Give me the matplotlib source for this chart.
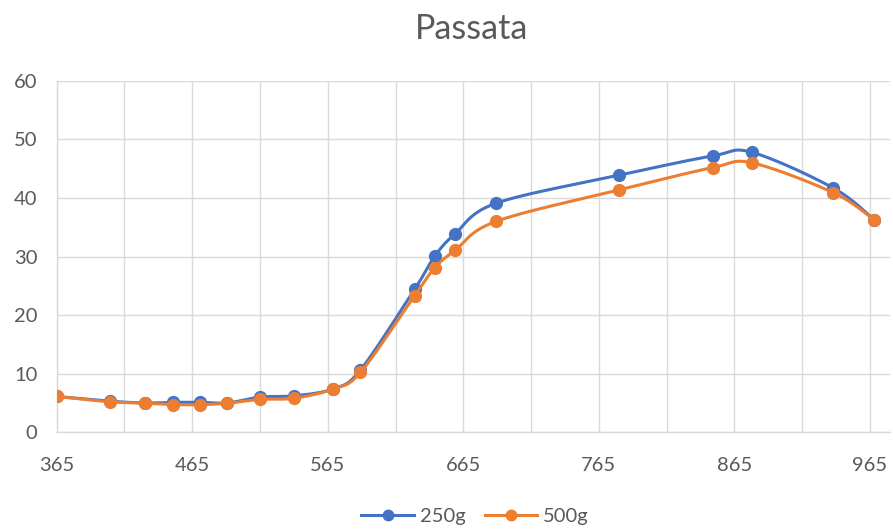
import numpy as np
import matplotlib
matplotlib.use("Agg")
import matplotlib.pyplot as plt
from matplotlib.lines import Line2D

# Wavelength (nm) and readings for the two passata samples
wavelength = [365, 404, 430, 451, 471, 491, 515, 540, 569, 589,
              629, 644, 659, 689, 780, 849, 878, 938, 968]
series_250g = [6.1, 5.3, 5.0, 5.1, 5.1, 5.0, 6.0, 6.2, 7.4, 10.6,
               24.4, 30.1, 33.9, 39.1, 43.9, 47.2, 47.8, 41.7, 36.3]
series_500g = [6.1, 5.2, 4.95, 4.7, 4.7, 4.95, 5.6, 5.8, 7.4, 10.2,
               23.3, 28.1, 31.1, 36.0, 41.4, 45.2, 46.0, 40.9, 36.3]
labels = ["250g", "500g"]
colors = ["#4472C4", "#ED7D31"]

x_ticks = [365, 465, 565, 665, 765, 865, 965]


def smooth(xs, ys, n=30):
    """Cubic Bezier smoothing through every point (Catmull-Rom style)."""
    p = np.column_stack([xs, ys]).astype(float)
    p_ext = np.vstack([p[0], p, p[-1]])
    out = []
    t = np.linspace(0, 1, n)[:, None]
    for i in range(len(p) - 1):
        p0, p1, p2, p3 = p_ext[i], p_ext[i + 1], p_ext[i + 2], p_ext[i + 3]
        c1 = p1 + (p2 - p0) / 6.0
        c2 = p2 - (p3 - p1) / 6.0
        seg = ((1 - t) ** 3) * p1 + 3 * ((1 - t) ** 2) * t * c1 \
            + 3 * (1 - t) * t ** 2 * c2 + t ** 3 * p2
        out.append(seg if i == 0 else seg[1:])
    curve = np.vstack(out)
    return curve[:, 0], curve[:, 1]


plt.rcParams["font.family"] = ["Lato", "DejaVu Sans"]
text_color = "#595959"
grid_color = "#D9D9D9"

fig = plt.figure(figsize=(8.93, 5.29), dpi=100)
ax = fig.add_axes([0.0635, 0.183, 0.9335, 0.664])

for ys, lab, col, z in zip([series_250g, series_500g], labels, colors, [3, 4]):
    sx, sy = smooth(wavelength, ys)
    ax.plot(sx, sy, color=col, lw=2.2, zorder=z, solid_capstyle="round")
    ax.plot(wavelength, ys, ls="none", marker="o", ms=8.5, color=col,
            markeredgecolor=col, zorder=z)

ax.set_xlim(365, 980)
ax.set_ylim(0, 60)
ax.set_xticks(x_ticks)
ax.set_xticks(np.arange(415, 980, 100), minor=True)
ax.set_yticks(np.arange(0, 61, 10))
ax.grid(True, which="both", color=grid_color, lw=1.0, zorder=0)
ax.tick_params(which="both", length=0, colors=text_color, labelsize=14.5)
ax.tick_params(axis="x", pad=18)
ax.tick_params(axis="y", pad=14)
for s in ["top", "right"]:
    ax.spines[s].set_visible(False)
for s in ["left", "bottom"]:
    ax.spines[s].set_color(grid_color)
    ax.spines[s].set_linewidth(1.0)
ax.set_axisbelow(True)

fig.text(0.528, 0.946, "Passata", ha="center", va="center",
         fontsize=24.5, color=text_color)

handles = [Line2D([0], [0], color=c, lw=2.2, marker="o", ms=7.5)
           for c in colors]
fig.legend(handles, labels, loc="center", bbox_to_anchor=(0.532, 0.024),
           ncol=2, frameon=False, fontsize=14.5, labelcolor=text_color,
           handlelength=2.6, handletextpad=0.3, columnspacing=0.95)

fig.savefig("out.png", dpi=100)
